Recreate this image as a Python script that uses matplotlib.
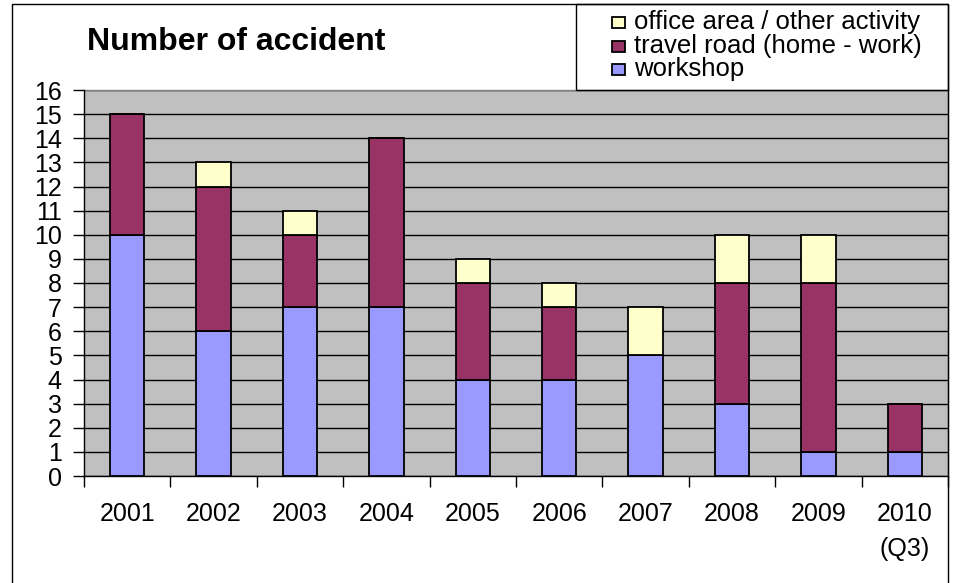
import matplotlib.pyplot as plt
import numpy as np
from matplotlib.patches import Rectangle

years = ['2001', '2002', '2003', '2004', '2005', '2006', '2007', '2008', '2009', '2010\n(Q3)']
workshop = [10, 6, 7, 7, 4, 4, 5, 3, 1, 1]
travel = [5, 6, 3, 7, 4, 3, 0, 5, 7, 2]
office = [0, 1, 1, 0, 1, 1, 2, 2, 2, 0]

labels = ['office area / other activity', 'travel road (home - work)', 'workshop']
colors = ['#FFFFCC', '#993366', '#9999FF']

W, H = 957, 583
plt.rcParams['font.family'] = ['Liberation Sans', 'DejaVu Sans']

fig = plt.figure(figsize=(W / 100, H / 100), dpi=100)


def px(x0, y0):
    # pixel (from top-left) -> figure fraction
    return x0 / W, 1 - y0 / H


# outer chart frame
fig.patches.append(Rectangle((12 / W, -0.1), (948 - 12) / W, 1.1 - 4 / H,
                             transform=fig.transFigure, fill=False,
                             edgecolor='black', linewidth=1.0))
# legend frame
fig.patches.append(Rectangle((576 / W, 1 - 90 / H), (948 - 576) / W, (90 - 4) / H,
                             transform=fig.transFigure, fill=False,
                             edgecolor='black', linewidth=1.0))

ax = fig.add_axes([84 / W, (H - 476) / H, (948 - 84) / W, (476 - 90) / H])
ax.set_facecolor('#C0C0C0')

x = np.arange(len(years))
w = 0.4
b1 = np.array(workshop)
b2 = b1 + np.array(travel)
ax.bar(x, workshop, w, color=colors[2], edgecolor='black', linewidth=1.3, zorder=3)
ax.bar(x, travel, w, bottom=b1, color=colors[1], edgecolor='black', linewidth=1.3, zorder=3)
ax.bar(x, office, w, bottom=b2, color=colors[0], edgecolor='black', linewidth=1.3, zorder=3)

ax.set_xlim(-0.5, len(years) - 0.5)
ax.set_ylim(0, 16)
ax.set_yticks(range(0, 17))
ax.yaxis.grid(True, color='black', linewidth=1.0, zorder=1)
ax.set_axisbelow(True)

ax.set_xticks(np.arange(-0.5, len(years), 1.0))
ax.set_xticklabels([])
ax.set_xticks(x, minor=True)
ax.set_xticklabels(years, minor=True, linespacing=1.55, va='top')
ax.tick_params(axis='x', which='major', direction='out', length=8, width=1)
ax.tick_params(axis='x', which='minor', length=0, pad=19, labelsize=18)
ax.tick_params(axis='y', direction='out', length=8, width=1, labelsize=18, pad=8)

for s in ['top', 'right']:
    ax.spines[s].set_visible(False)
ax.spines['left'].set_linewidth(1.0)
ax.spines['bottom'].set_linewidth(1.0)
ax.plot([1, 1], [0, 1], transform=ax.transAxes, color='#808080', linewidth=1.0, clip_on=False)
ax.plot([0, 1], [1, 1], transform=ax.transAxes, color='#808080', linewidth=1.0, clip_on=False)

fig.text(*px(87, 50), 'Number of accident', fontsize=23, fontweight='bold',
         ha='left', va='baseline')

# legend drawn by hand (rows are tighter than matplotlib allows)
for i, (lab, col) in enumerate(zip(labels, colors)):
    yb = 28 + i * 23.5
    fig.patches.append(Rectangle(px(612, yb), 13 / W, 11 / H, transform=fig.transFigure,
                                 facecolor=col, edgecolor='black', linewidth=1.3))
    fig.text(*px(634, yb + 1), lab, fontsize=18.5, ha='left', va='baseline')

fig.savefig('out.png', dpi=100)
